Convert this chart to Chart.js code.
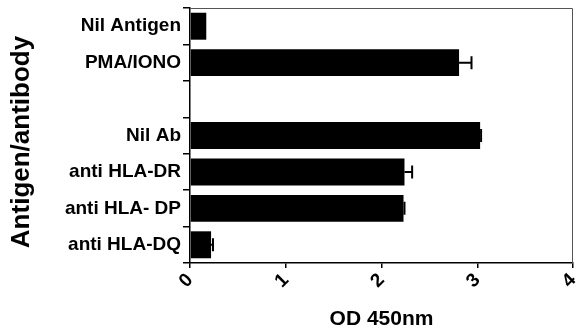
<!DOCTYPE html>
<html>
<head>
<meta charset="utf-8">
<script src="https://cdn.jsdelivr.net/npm/chart.js@4"></script>
<style>
  html, body { margin: 0; padding: 0; background: #fff; }
  #wrap { width: 576px; height: 336px; position: relative; }
</style>
</head>
<body>
<div id="wrap"><canvas id="c" width="576" height="336"></canvas></div>
<script>
const categories = ["Nil Antigen", "PMA/IONO", "", "Nil Ab", "anti HLA-DR", "anti HLA- DP", "anti HLA-DQ"];
const odValues = [0.17, 2.81, null, 3.03, 2.24, 2.23, 0.22];
const odErrors = [0, 0.13, 0, 0.01, 0.08, 0.01, 0.02];
const xTicks = [0, 1, 2, 3, 4];
const yTitle = 'Antigen/antibody';

const FONT = "'Liberation Sans', Arial, Helvetica, sans-serif";

const extras = {
  id: 'extras',
  afterDatasetsDraw(chart) {
    const ctx = chart.ctx;
    const xs = chart.scales.x, ys = chart.scales.y;
    const a = chart.chartArea;
    ctx.save();
    ctx.strokeStyle = '#555';
    ctx.lineWidth = 1;
    ctx.beginPath();
    ctx.moveTo(a.left, a.top + 0.5);
    ctx.lineTo(a.right - 0.5, a.top + 0.5);
    ctx.lineTo(a.right - 0.5, a.bottom);
    ctx.stroke();
    ctx.strokeStyle = '#000';
    ctx.lineWidth = 2;
    odValues.forEach((v, i) => {
      if (v == null || !odErrors[i]) return;
      const x0 = xs.getPixelForValue(v);
      const x1 = xs.getPixelForValue(v + odErrors[i]);
      const y = ys.getPixelForValue(i);
      ctx.beginPath();
      ctx.moveTo(x0, y);
      ctx.lineTo(x1, y);
      ctx.moveTo(x1, y - 6.5);
      ctx.lineTo(x1, y + 6.5);
      ctx.stroke();
    });
    // y axis title
    ctx.fillStyle = '#000';
    ctx.font = "bold 26px " + FONT;
    ctx.textAlign = 'center';
    ctx.textBaseline = 'middle';
    ctx.translate(22, 142);
    ctx.rotate(-Math.PI / 2);
    ctx.fillText(yTitle, 0, 0);
    ctx.restore();
  }
};

new Chart(document.getElementById('c'), {
  type: 'bar',
  data: {
    labels: categories,
    datasets: [{
      data: odValues,
      backgroundColor: '#000',
      borderWidth: 0,
      barPercentage: 0.74,
      categoryPercentage: 1.0
    }]
  },
  options: {
    indexAxis: 'y',
    responsive: false,
    animation: false,
    layout: { padding: { left: 0, right: 3, top: 8, bottom: 0 } },
    plugins: { legend: { display: false }, tooltip: { enabled: false } },
    scales: {
      x: {
        min: 0, max: 4,
        afterBuildTicks(scale) { scale.ticks = xTicks.map(v => ({ value: v })); },
        afterFit(scale) { scale.height = 73; scale.paddingLeft = 0; scale.paddingRight = 0; },
        grid: { drawOnChartArea: false, drawTicks: true, tickLength: 5, color: '#000', lineWidth: 1.5 },
        border: { color: '#000', width: 1.5 },
        ticks: {
          color: '#000',
          font: { family: FONT, size: 19, weight: 'bold' },
          maxRotation: 45, minRotation: 45,
          padding: 1
        },
        title: {
          display: true, text: 'OD 450nm', color: '#000',
          font: { family: FONT, size: 21, weight: 'bold' },
          padding: { top: 0, bottom: 4 }
        }
      },
      y: {
        afterFit(scale) { scale.width = 190; scale.paddingTop = 0; scale.paddingBottom = 0; },
        grid: { drawOnChartArea: false, drawTicks: true, tickLength: 7, color: '#000', lineWidth: 1.5 },
        border: { color: '#000', width: 1.5 },
        ticks: {
          color: '#000',
          font: { family: FONT, size: 19, weight: 'bold' },
          padding: 2,
          autoSkip: false
        },
        title: { display: false }
      }
    }
  },
  plugins: [extras]
});
</script>
</body>
</html>
